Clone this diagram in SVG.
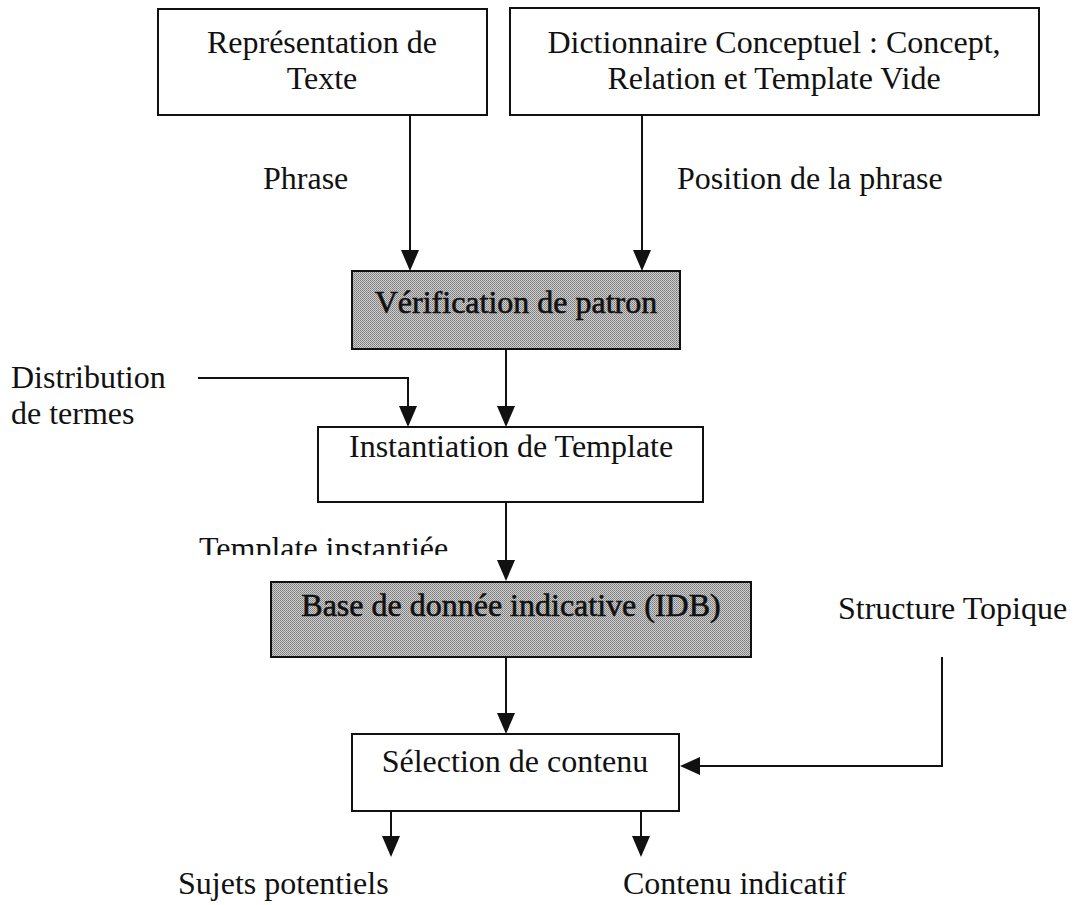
<svg xmlns="http://www.w3.org/2000/svg" width="1075" height="905" viewBox="0 0 1075 905">
<defs>
<pattern id="dots" width="2" height="2" patternUnits="userSpaceOnUse">
<rect width="2" height="2" fill="#cfcfcf"/>
<rect width="1" height="1" fill="#7a7a7a"/>
<rect x="1" y="1" width="1" height="1" fill="#8e8e8e"/>
</pattern>
<clipPath id="clipT"><rect x="150" y="520" width="320" height="35"/></clipPath>
<style>
.box{fill:#fff;stroke:#111;stroke-width:2}
.shade{fill:url(#dots);stroke:#111;stroke-width:2}
text{font-family:"Liberation Serif","Times New Roman",serif;font-size:32px;fill:#111}
.c{text-anchor:middle}
.b{stroke:#111;stroke-width:0.6}
.ln{fill:none;stroke:#111;stroke-width:2}
.ah{fill:#111}
</style>
</defs>
<rect width="1075" height="905" fill="#fff"/>
<g id="n-representation">
<rect class="box" x="158" y="9" width="329" height="106"/>
<text class="c" x="322" y="53">Représentation de</text>
<text class="c" x="322" y="89">Texte</text>
</g>
<g id="n-dictionnaire">
<rect class="box" x="510" y="8" width="529" height="107"/>
<text class="c" x="774" y="53">Dictionnaire Conceptuel : Concept,</text>
<text class="c" x="774" y="89">Relation et Template Vide</text>
</g>
<g id="n-verification">
<rect class="shade" x="352" y="271" width="328" height="78"/>
<text class="c b" x="516" y="313">Vérification de patron</text>
</g>
<g id="n-instantiation">
<rect class="box" x="318" y="427" width="385" height="75"/>
<text x="349" y="457">Instantiation de Template</text>
</g>
<g id="n-idb">
<rect class="shade" x="271" y="582" width="480" height="75"/>
<text class="c b" x="511" y="616">Base de donnée indicative (IDB)</text>
</g>
<g id="n-selection">
<rect class="box" x="352" y="734" width="327" height="77"/>
<text class="c" x="515" y="772">Sélection de contenu</text>
</g>
<g id="labels">
<text x="263" y="189">Phrase</text>
<text x="677" y="189">Position de la phrase</text>
<text x="11" y="388">Distribution</text>
<text x="11" y="424">de termes</text>
<text x="199" y="559" clip-path="url(#clipT)">Template instantiée</text>
<text x="838" y="619">Structure Topique</text>
<text x="178" y="894">Sujets potentiels</text>
<text x="623" y="894">Contenu indicatif</text>
</g>
<g id="connectors">
<path class="ln" d="M410 115V252"/>
<polygon class="ah" points="401,250 419,250 410,271"/>
<path class="ln" d="M642 115V252"/>
<polygon class="ah" points="633,250 651,250 642,271"/>
<path class="ln" d="M198 378H408V408"/>
<polygon class="ah" points="399,406 417,406 408,427"/>
<path class="ln" d="M506 349V408"/>
<polygon class="ah" points="497,406 515,406 506,427"/>
<path class="ln" d="M506 502V562"/>
<polygon class="ah" points="497,560 515,560 506,581"/>
<path class="ln" d="M506 657V715"/>
<polygon class="ah" points="497,713 515,713 506,734"/>
<path class="ln" d="M942 657V766H698"/>
<polygon class="ah" points="700,757 700,775 680,766"/>
<path class="ln" d="M391 811V838"/>
<polygon class="ah" points="382,836 400,836 391,857"/>
<path class="ln" d="M641 811V838"/>
<polygon class="ah" points="632,836 650,836 641,857"/>
</g>
</svg>
